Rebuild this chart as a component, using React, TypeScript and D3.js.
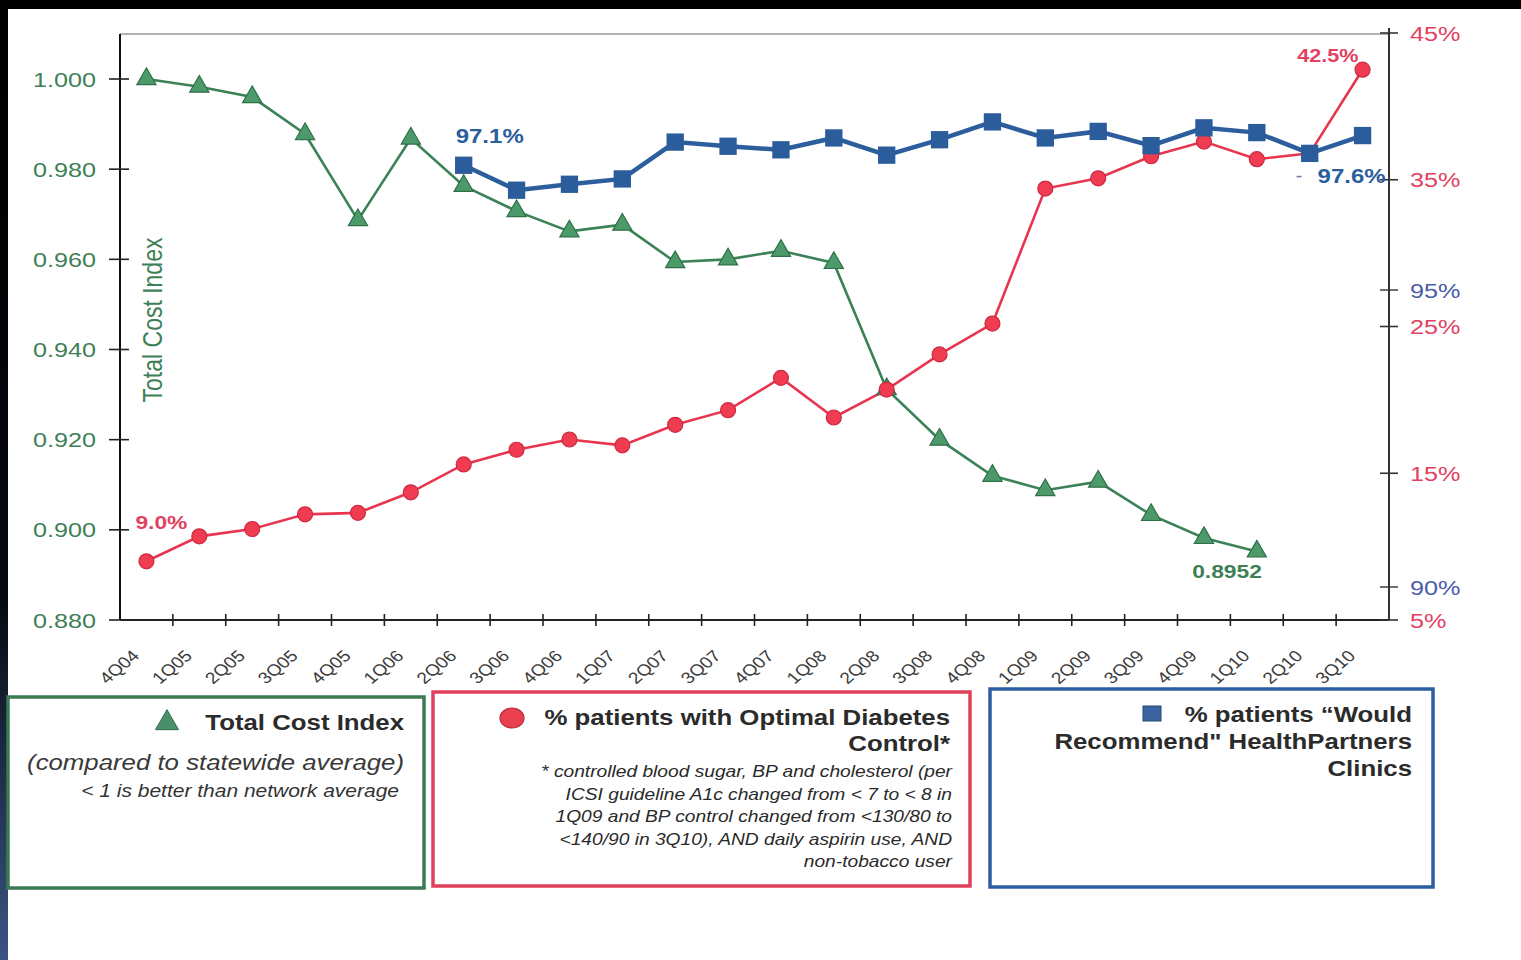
import React from "react";
import * as d3 from "d3";

// Quarter labels along the bottom axis
const quarters = [
  "4Q04", "1Q05", "2Q05", "3Q05", "4Q05", "1Q06", "2Q06", "3Q06", "4Q06", "1Q07", "2Q07", "3Q07",
  "4Q07", "1Q08", "2Q08", "3Q08", "4Q08", "1Q09", "2Q09", "3Q09", "4Q09", "1Q10", "2Q10", "3Q10",
];

// Total Cost Index (left axis)
const costIndex: (number | null)[] = [
  1.0, 0.9983, 0.996, 0.9878, 0.9687, 0.9868, 0.9763, 0.9707, 0.9662, 0.9677, 0.9594, 0.96,
  0.9619, 0.9592, 0.9312, 0.92, 0.912, 0.9088, 0.9107, 0.9033, 0.8982, 0.8952, null, null,
];

// % patients with Optimal Diabetes Control (right axis, red)
const diabetesPct: (number | null)[] = [
  9.0, 10.7, 11.2, 12.2, 12.3, 13.7, 15.6, 16.6, 17.3, 16.9, 18.3, 19.3,
  21.5, 18.8, 20.7, 23.1, 25.2, 34.4, 35.1, 36.6, 37.6, 36.4, 36.8, 42.5,
];

// % patients "Would Recommend" (right axis, blue)
const recommendPct: (number | null)[] = [
  null, null, null, null, null, null, 97.1, 96.68, 96.78, 96.87, 97.49, 97.42,
  97.36, 97.56, 97.27, 97.53, 97.83, 97.56, 97.67, 97.43, 97.73, 97.65, 97.3, 97.6,
];

const costTicks = [0.88, 0.9, 0.92, 0.94, 0.96, 0.98, 1.0];
const diabetesTicks = [5, 15, 25, 35, 45];
const recommendTicks = [90, 95];

const W = 1521;
const H = 960;
const FONT = "'Liberation Sans', Arial, Helvetica, sans-serif";
const SX = 1.2; // lettering is drawn slightly wide

const GREEN = "#3b8257";
const GREEN_TXT = "#3f7f57";
const RED = "#e8354f";
const RED_TXT = "#e2425f";
const BLUE = "#2c5e9e";
const BLUE_TXT = "#4a5ca8";

type TProps = {
  x: number;
  y: number;
  anchor?: "start" | "middle" | "end";
  size: number;
  weight?: string | number;
  italic?: boolean;
  fill?: string;
  rotate?: number;
  dy?: string;
  children: React.ReactNode;
};

function T({ x, y, anchor = "start", size, weight = "normal", italic, fill = "#222", rotate, dy, children }: TProps) {
  return (
    <text
      transform={`translate(${x},${y}) scale(${SX},1)${rotate ? ` rotate(${rotate})` : ""}`}
      textAnchor={anchor}
      fontSize={size}
      fontWeight={weight}
      fontStyle={italic ? "italic" : "normal"}
      fontFamily={FONT}
      fill={fill}
      dy={dy}
    >
      {children}
    </text>
  );
}

export default function App() {
  const plotL = 120;
  const plotR = 1389;
  const plotB = 620;

  const x = d3.scaleBand<string>().domain(quarters).range([plotL, plotR]).padding(0);
  const cx = (q: string) => (x(q) as number) + x.bandwidth() / 2;

  const yCost = d3.scaleLinear().domain([0.88, 1.0]).range([plotB, 79]);
  const yRed = d3.scaleLinear().domain([5, 45]).range([plotB, 33]);
  const yBlue = d3.scaleLinear().domain([90, 95]).range([587, 290]);

  const plotT = yCost(1.01);

  const mkLine = (scale: d3.ScaleLinear<number, number>, vals: (number | null)[]) =>
    d3
      .line<number>()
      .defined((_, i) => vals[i] != null)
      .x((_, i) => cx(quarters[i]))
      .y((_, i) => scale(vals[i] as number))(quarters.map((_, i) => i)) || "";

  const triangle = d3.symbol().type(d3.symbolTriangle).size(160)() || "";
  const square = d3.symbol().type(d3.symbolSquare).size(300)() || "";

  const boundaries = d3.range(1, quarters.length).map((i) => plotL + i * x.step());

  const lastI = quarters.length - 1;
  const lastCostI = costIndex.map((v, i) => (v != null ? i : -1)).filter((i) => i >= 0).pop() as number;
  const firstBlueI = recommendPct.findIndex((v) => v != null);

  return (
    <div style={{ position: "absolute", left: 0, top: 0 }}>
      <svg width={W} height={H} viewBox={`0 0 ${W} ${H}`} style={{ display: "block" }}>
        <defs>
          <linearGradient id="edge" x1="0" y1="0" x2="0" y2="1">
            <stop offset="0" stopColor="#000" />
            <stop offset="0.62" stopColor="#05090f" />
            <stop offset="1" stopColor="#3a5484" />
          </linearGradient>
        </defs>
        <rect x={0} y={0} width={W} height={H} fill="#fff" />
        <rect x={0} y={0} width={W} height={9} fill="#000" />
        <rect x={0} y={0} width={8} height={H} fill="url(#edge)" />

        {/* frame */}
        <line x1={plotL} x2={plotR} y1={plotT} y2={plotT} stroke="#9a9a9a" strokeWidth={1.5} />
        <line x1={plotL} x2={plotL} y1={plotT} y2={plotB} stroke="#111" strokeWidth={2} />
        <line x1={plotR} x2={plotR} y1={yRed(45) - 5} y2={plotB} stroke="#333" strokeWidth={2} />
        <line x1={plotL} x2={plotR} y1={plotB} y2={plotB} stroke="#222" strokeWidth={2} />

        {/* left axis */}
        {costTicks.map((t) => (
          <g key={`c${t}`}>
            <line x1={plotL - 11} x2={plotL + 9} y1={yCost(t)} y2={yCost(t)} stroke="#222" strokeWidth={1.6} />
            <T x={96} y={yCost(t)} anchor="end" size={21} fill={GREEN_TXT} dy="0.36em">
              {d3.format(".3f")(t)}
            </T>
          </g>
        ))}
        <T x={152} y={320} anchor="middle" size={23} fill={GREEN_TXT} rotate={-90} dy="0.35em">
          Total Cost Index
        </T>

        {/* right axis */}
        {diabetesTicks.map((t) => (
          <g key={`d${t}`}>
            <line x1={plotR - 9} x2={plotR + 9} y1={yRed(t)} y2={yRed(t)} stroke="#333" strokeWidth={1.6} />
            <T x={1410} y={yRed(t)} size={21} fill={RED_TXT} dy="0.36em">
              {t}%
            </T>
          </g>
        ))}
        {recommendTicks.map((t) => (
          <g key={`r${t}`}>
            <line x1={plotR - 9} x2={plotR + 9} y1={yBlue(t)} y2={yBlue(t)} stroke="#333" strokeWidth={1.4} />
            <T x={1410} y={yBlue(t)} size={21} fill={BLUE_TXT} dy="0.36em">
              {t}%
            </T>
          </g>
        ))}

        {/* bottom axis */}
        {boundaries.map((bx, i) => (
          <line key={`b${i}`} x1={bx} x2={bx} y1={plotB - 6} y2={plotB + 6} stroke="#222" strokeWidth={1.6} />
        ))}
        {quarters.map((q) => (
          <T key={q} x={cx(q) - 6} y={657} anchor="end" size={16} fill="#3a3a3a" rotate={-45}>
            {q}
          </T>
        ))}

        {/* series lines */}
        <path d={mkLine(yCost, costIndex)} fill="none" stroke={GREEN} strokeWidth={2.6} />
        <path d={mkLine(yRed, diabetesPct)} fill="none" stroke={RED} strokeWidth={2.6} />
        <path d={mkLine(yBlue, recommendPct)} fill="none" stroke={BLUE} strokeWidth={4.5} />

        {/* markers */}
        {costIndex.map((v, i) =>
          v == null ? null : (
            <path
              key={`tm${i}`}
              d={triangle}
              transform={`translate(${cx(quarters[i])},${yCost(v)})`}
              fill="#4c9a69"
              stroke="#2f7049"
              strokeWidth={1.2}
            />
          )
        )}
        {diabetesPct.map((v, i) =>
          v == null ? null : (
            <circle
              key={`cm${i}`}
              cx={cx(quarters[i])}
              cy={yRed(v)}
              r={7.5}
              fill="#ef3c50"
              stroke="#cc2a42"
              strokeWidth={1.2}
            />
          )
        )}
        {recommendPct.map((v, i) =>
          v == null ? null : (
            <path key={`sm${i}`} d={square} transform={`translate(${cx(quarters[i])},${yBlue(v)})`} fill="#2b5c9c" />
          )
        )}

        {/* value labels */}
        <T x={cx(quarters[0]) - 11} y={yRed(diabetesPct[0] as number) - 32} size={19} weight="bold" fill={RED_TXT}>
          {d3.format(".1f")(diabetesPct[0] as number)}%
        </T>
        <T x={cx(quarters[lastI]) - 4} y={yRed(diabetesPct[lastI] as number) - 8} anchor="end" size={18} weight="bold" fill={RED_TXT}>
          {d3.format(".1f")(diabetesPct[lastI] as number)}%
        </T>
        <T x={cx(quarters[firstBlueI]) - 8} y={yBlue(recommendPct[firstBlueI] as number) - 22} size={20} weight="bold" fill={BLUE}>
          {d3.format(".1f")(recommendPct[firstBlueI] as number)}%
        </T>
        <line
          x1={cx(quarters[lastI]) - 66}
          x2={cx(quarters[lastI]) - 61}
          y1={yBlue(recommendPct[lastI] as number) + 41}
          y2={yBlue(recommendPct[lastI] as number) + 41}
          stroke="#6a7a9a"
          strokeWidth={1.5}
        />
        <T x={cx(quarters[lastI]) - 45} y={yBlue(recommendPct[lastI] as number) + 47} size={20} weight="bold" fill={BLUE}>
          {d3.format(".1f")(recommendPct[lastI] as number)}%
        </T>
        <T x={cx(quarters[lastCostI]) + 5} y={yCost(costIndex[lastCostI] as number) + 27} anchor="end" size={19} weight="bold" fill={GREEN_TXT}>
          {d3.format(".4f")(costIndex[lastCostI] as number)}
        </T>

        {/* legend: Total Cost Index */}
        <rect x={8} y={697} width={416} height={191} fill="none" stroke="#3b7b54" strokeWidth={3.5} />
        <path d={d3.symbol().type(d3.symbolTriangle).size(230)() || ""} transform="translate(167,723)" fill="#4a8f6a" stroke="#2f6a47" strokeWidth={1} />
        <T x={404} y={730} anchor="end" size={21.5} weight="bold" fill="#2b2b2b">
          Total Cost Index
        </T>
        <T x={404} y={770} anchor="end" size={21.5} italic fill="#3a3a3a">
          (compared to statewide average)
        </T>
        <T x={399} y={797} anchor="end" size={17.5} italic fill="#333">
          {"< 1 is better than network average"}
        </T>

        {/* legend: Optimal Diabetes Control */}
        <rect x={433} y={692} width={537} height={194} fill="none" stroke="#e0405a" strokeWidth={3.5} />
        <ellipse cx={512} cy={718} rx={12} ry={10} fill="#e8404f" stroke="#b82a3a" strokeWidth={1.2} />
        <T x={950} y={725} anchor="end" size={21.5} weight="bold" fill="#2b2b2b">
          % patients with Optimal Diabetes
        </T>
        <T x={950} y={751} anchor="end" size={21.5} weight="bold" fill="#2b2b2b">
          Control*
        </T>
        {[
          "* controlled blood sugar, BP and cholesterol (per",
          "ICSI guideline A1c changed from < 7 to < 8 in",
          "1Q09 and BP control changed from <130/80  to",
          "<140/90 in 3Q10), AND daily aspirin use, AND",
          "non-tobacco user",
        ].map((s, i) => (
          <T key={`fn${i}`} x={952} y={777 + i * 22.5} anchor="end" size={16} italic fill="#2a2a2a">
            {s}
          </T>
        ))}

        {/* legend: Would Recommend */}
        <rect x={990} y={689} width={443} height={198} fill="none" stroke="#2d5fa0" strokeWidth={3.5} />
        <rect x={1143} y={706} width={18} height={15} fill="#3d64a0" stroke="#26467a" strokeWidth={1} />
        <T x={1412} y={722} anchor="end" size={21.5} weight="bold" fill="#2b2b2b">
          % patients “Would
        </T>
        <T x={1412} y={749} anchor="end" size={21.5} weight="bold" fill="#2b2b2b">
          Recommend" HealthPartners
        </T>
        <T x={1412} y={776} anchor="end" size={21.5} weight="bold" fill="#2b2b2b">
          Clinics
        </T>
      </svg>
    </div>
  );
}
